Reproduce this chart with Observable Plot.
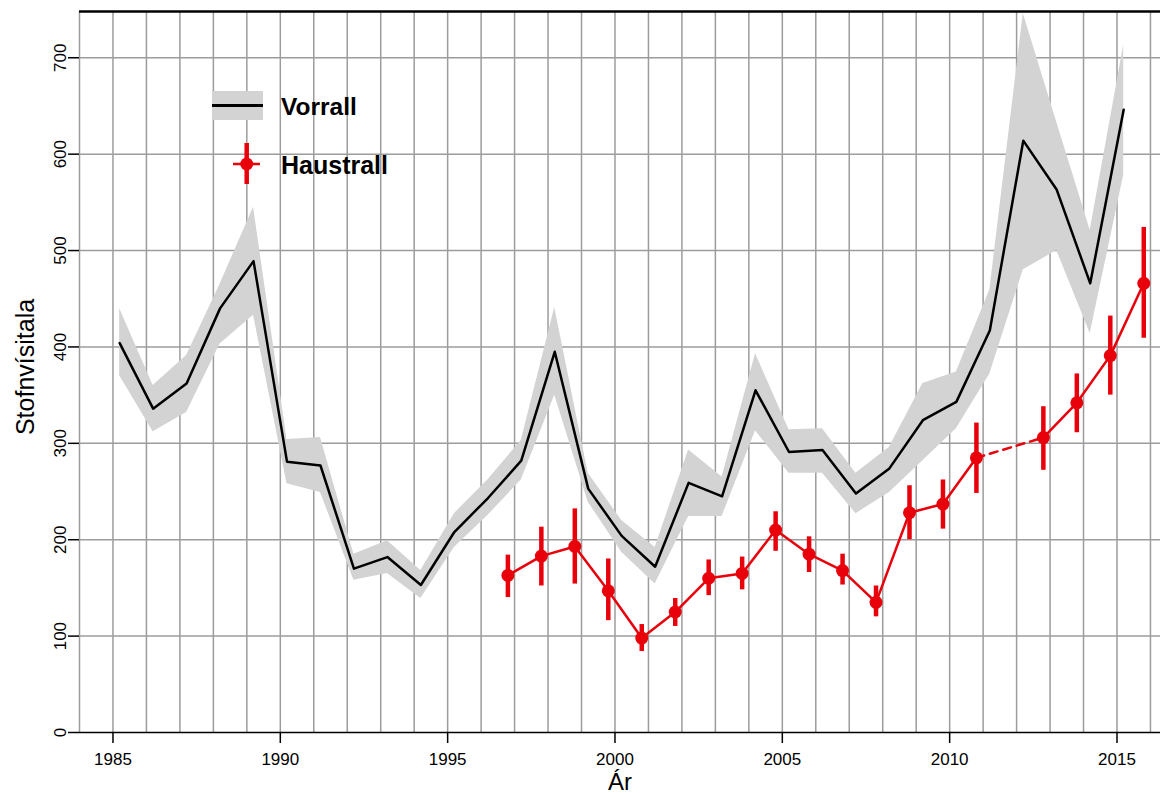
<!DOCTYPE html>
<html><head><meta charset="utf-8">
<script src="https://cdn.jsdelivr.net/npm/d3@7"></script>
<script src="https://cdn.jsdelivr.net/npm/@observablehq/plot@0.6"></script>
<style>
body{margin:0;background:#fff;font-family:"Liberation Sans",Arial,Helvetica,sans-serif;}
#wrap{position:relative;width:1160px;height:793px;overflow:hidden;}
#wrap svg{display:block;}
#legend{position:absolute;left:0;top:0;}
</style></head><body><div id="wrap"></div>
<script>
// Vorrall (spring survey) index with confidence band
const vorYears = [1985,1986,1987,1988,1989,1990,1991,1992,1993,1994,1995,1996,1997,1998,1999,2000,2001,2002,2003,2004,2005,2006,2007,2008,2009,2010,2011,2012,2013,2014,2015];
const vorValue = [404,336,362,440,489,281,277,170,182,153,208,243,282,395,253,204,172,259,245,355,291,293,248,274,324,343,417,614,563,466,646];
const vorLow   = [370,312,332,403,433,258,249,158,165,139,192,225,262,350,239,187,154,224,224,313,269,269,227,249,282,315,372,480,500,414,578];
const vorHigh  = [440,360,391,465,545,304,306,185,199,168,227,262,303,441,269,220,192,293,265,393,314,315,269,296,362,374,459,746,633,521,713];

// Haustrall (autumn survey) index with error bars
const hauYears = [1996,1997,1998,1999,2000,2001,2002,2003,2004,2005,2006,2007,2008,2009,2010,2012,2013,2014,2015];
const hauValue = [163,183,193,147,98,125,160,165,210,185,168,135,228,237,285,306,342,391,466];
const hauLow   = [140,152,154,116,84,110,142,148,188,166,153,120,200,211,248,272,311,350,409];
const hauHigh  = [184,213,232,180,112,139,179,182,229,203,185,152,256,262,321,338,372,432,524];

const xTicks = [1985,1990,1995,2000,2005,2010,2015];
const yTicks = [0,100,200,300,400,500,600,700];
const gridYears = [1984,1985,1986,1987,1988,1989,1990,1991,1992,1993,1994,1995,1996,1997,1998,1999,2000,2001,2002,2003,2004,2005,2006,2007,2008,2009,2010,2011,2012,2013,2014,2015,2016];
const xDomain = [1984, 2016.3];
const yDomain = [0, 748];
const springOffset = 0.2, autumnOffset = 0.8;

const RED = "#e8000b";
const GRID = "#9c9c9c";
const BAND = "#d3d3d3";

const vorrall = vorYears.map((y, i) => ({t: y + springOffset, v: vorValue[i], lo: vorLow[i], hi: vorHigh[i]}));
const haustrall = hauYears.map((y, i) => ({year: y, t: y + autumnOffset, v: hauValue[i], lo: hauLow[i], hi: hauHigh[i]}));
const gapPair = haustrall.filter(d => d.year === 2010 || d.year === 2012);

const chart = Plot.plot({
  width: 1160,
  height: 793,
  marginLeft: 79,
  marginRight: 0,
  marginTop: 11,
  marginBottom: 61,
  style: {fontFamily: '"Liberation Sans", Arial, Helvetica, sans-serif', fontSize: "17px", background: "#fff"},
  x: {domain: xDomain, label: null},
  y: {domain: yDomain, label: null},
  marks: [
    Plot.ruleX(gridYears, {stroke: GRID, strokeWidth: 1.5}),
    Plot.ruleY(yTicks.filter(d => d > 0), {stroke: GRID, strokeWidth: 1.5}),
    Plot.areaY(vorrall, {x: "t", y1: "lo", y2: "hi", fill: BAND}),
    Plot.line(vorrall, {x: "t", y: "v", stroke: "black", strokeWidth: 2.5}),
    Plot.line(haustrall, {filter: d => d.year <= 2010, x: "t", y: "v", stroke: RED, strokeWidth: 2.5}),
    Plot.line(haustrall, {filter: d => d.year >= 2012, x: "t", y: "v", stroke: RED, strokeWidth: 2.5}),
    Plot.line(gapPair, {x: "t", y: "v", stroke: RED, strokeWidth: 2.5, strokeDasharray: "8,6"}),
    Plot.ruleX(haustrall, {x: "t", y1: "lo", y2: "hi", stroke: RED, strokeWidth: 4.5}),
    Plot.dot(haustrall, {x: "t", y: "v", r: 6.5, fill: RED}),
    Plot.ruleY([0], {stroke: "black", strokeWidth: 1.5}),
    Plot.ruleY([yDomain[1]], {stroke: "black", strokeWidth: 2.5}),
    Plot.axisX({ticks: xTicks, tickSize: 11, tickPadding: 9, tickFormat: d => String(d), fontSize: 17, strokeWidth: 1.5}),
    Plot.axisY({ticks: yTicks, tickSize: 11, tickRotate: -90, tickPadding: 3, tickFormat: d => String(d), fontSize: 17, strokeWidth: 1.5}),
    Plot.text(["Ár"], {frameAnchor: "bottom", textAnchor: "middle", lineAnchor: "top", dy: 40.5, fontSize: 24}),
    Plot.text(["Stofnvísitala"], {frameAnchor: "left", textAnchor: "middle", rotate: -90, dx: -54, dy: -5, fontSize: 25})
  ]
});
const wrap = document.getElementById("wrap");
wrap.appendChild(chart);

// Legend overlay
const leg = d3.select(wrap).append("svg").attr("id", "legend").attr("width", 420).attr("height", 200)
  .style("font-family", '"Liberation Sans", Arial, Helvetica, sans-serif');
leg.append("rect").attr("x", 212).attr("y", 91).attr("width", 51).attr("height", 29).attr("fill", BAND);
leg.append("line").attr("x1", 212).attr("x2", 263).attr("y1", 105.5).attr("y2", 105.5).attr("stroke", "black").attr("stroke-width", 3);
leg.append("text").attr("x", 281).attr("y", 115).attr("font-size", 24.5).attr("font-weight", "bold").text("Vorrall");
leg.append("line").attr("x1", 246.7).attr("x2", 246.7).attr("y1", 143).attr("y2", 184).attr("stroke", RED).attr("stroke-width", 4.5);
leg.append("line").attr("x1", 233).attr("x2", 260).attr("y1", 164).attr("y2", 164).attr("stroke", RED).attr("stroke-width", 2.5);
leg.append("circle").attr("cx", 246.7).attr("cy", 164).attr("r", 6.5).attr("fill", RED);
leg.append("text").attr("x", 281).attr("y", 173.5).attr("font-size", 25).attr("font-weight", "bold").text("Haustrall");
</script>
</body></html>
